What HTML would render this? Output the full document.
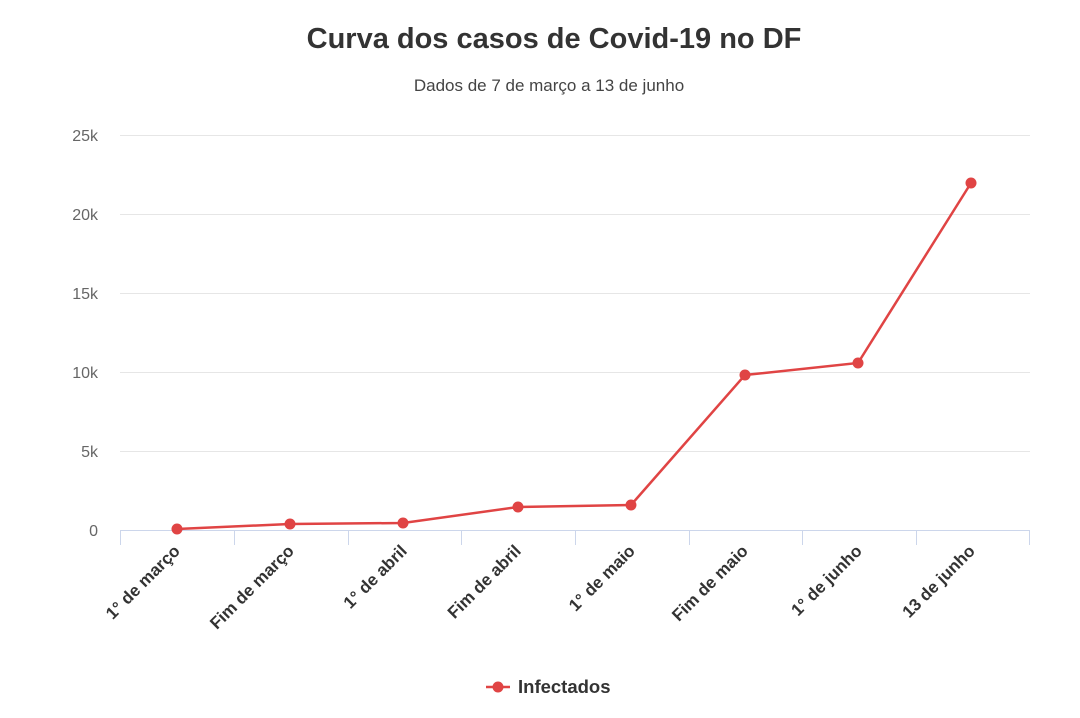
<!DOCTYPE html>
<html><head><style>body{margin:0;background:#fff}</style></head><body>
<svg width="1080" height="713" xmlns="http://www.w3.org/2000/svg" font-family="Liberation Sans, sans-serif">
<rect width="1080" height="713" fill="#fff"/>
<text x="554" y="48" text-anchor="middle" font-size="29" font-weight="bold" fill="#333">Curva dos casos de Covid-19 no DF</text>
<text x="549" y="91" text-anchor="middle" font-size="17" fill="#444">Dados de 7 de março a 13 de junho</text>
<g stroke="#e6e6e6" stroke-width="1">
<line x1="120" x2="1030" y1="135.5" y2="135.5"/><line x1="120" x2="1030" y1="214.5" y2="214.5"/>
<line x1="120" x2="1030" y1="293.5" y2="293.5"/><line x1="120" x2="1030" y1="372.5" y2="372.5"/>
<line x1="120" x2="1030" y1="451.5" y2="451.5"/>
</g>
<g stroke="#ccd6eb" stroke-width="1">
<line x1="120" x2="1030" y1="530.5" y2="530.5"/>
<line x1="120.5" x2="120.5" y1="530" y2="545"/><line x1="234.5" x2="234.5" y1="530" y2="545"/>
<line x1="348.5" x2="348.5" y1="530" y2="545"/><line x1="461.5" x2="461.5" y1="530" y2="545"/>
<line x1="575.5" x2="575.5" y1="530" y2="545"/><line x1="689.5" x2="689.5" y1="530" y2="545"/>
<line x1="802.5" x2="802.5" y1="530" y2="545"/><line x1="916.5" x2="916.5" y1="530" y2="545"/>
<line x1="1029.5" x2="1029.5" y1="530" y2="545"/>
</g>
<g font-size="16" fill="#666" text-anchor="end">
<text x="98" y="141">25k</text><text x="98" y="220">20k</text><text x="98" y="299">15k</text>
<text x="98" y="378">10k</text><text x="98" y="457">5k</text><text x="98" y="536">0</text>
</g>
<g font-size="17" font-weight="bold" fill="#333" text-anchor="end">
<text transform="translate(181,552) rotate(-45)">1° de março</text>
<text transform="translate(295,552) rotate(-45)">Fim de março</text>
<text transform="translate(408,552) rotate(-45)">1° de abril</text>
<text transform="translate(522,552) rotate(-45)">Fim de abril</text>
<text transform="translate(636,552) rotate(-45)">1° de maio</text>
<text transform="translate(749,552) rotate(-45)">Fim de maio</text>
<text transform="translate(863,552) rotate(-45)">1° de junho</text>
<text transform="translate(976,552) rotate(-45)">13 de junho</text>
</g>
<polyline fill="none" stroke="#e04444" stroke-width="2.5" points="177,529 290,524 403,523 518,507 631,505 745,375 858,363 971,183"/>
<g fill="#e04444">
<circle cx="177" cy="529" r="5.5"/><circle cx="290" cy="524" r="5.5"/><circle cx="403" cy="523" r="5.5"/>
<circle cx="518" cy="507" r="5.5"/><circle cx="631" cy="505" r="5.5"/><circle cx="745" cy="375" r="5.5"/>
<circle cx="858" cy="363" r="5.5"/><circle cx="971" cy="183" r="5.5"/>
</g>
<line x1="486" x2="510" y1="687" y2="687" stroke="#e04444" stroke-width="2.5"/>
<circle cx="498" cy="687" r="5.5" fill="#e04444"/>
<text x="518" y="693" font-size="18.5" font-weight="bold" fill="#333">Infectados</text>
</svg>
</body></html>
